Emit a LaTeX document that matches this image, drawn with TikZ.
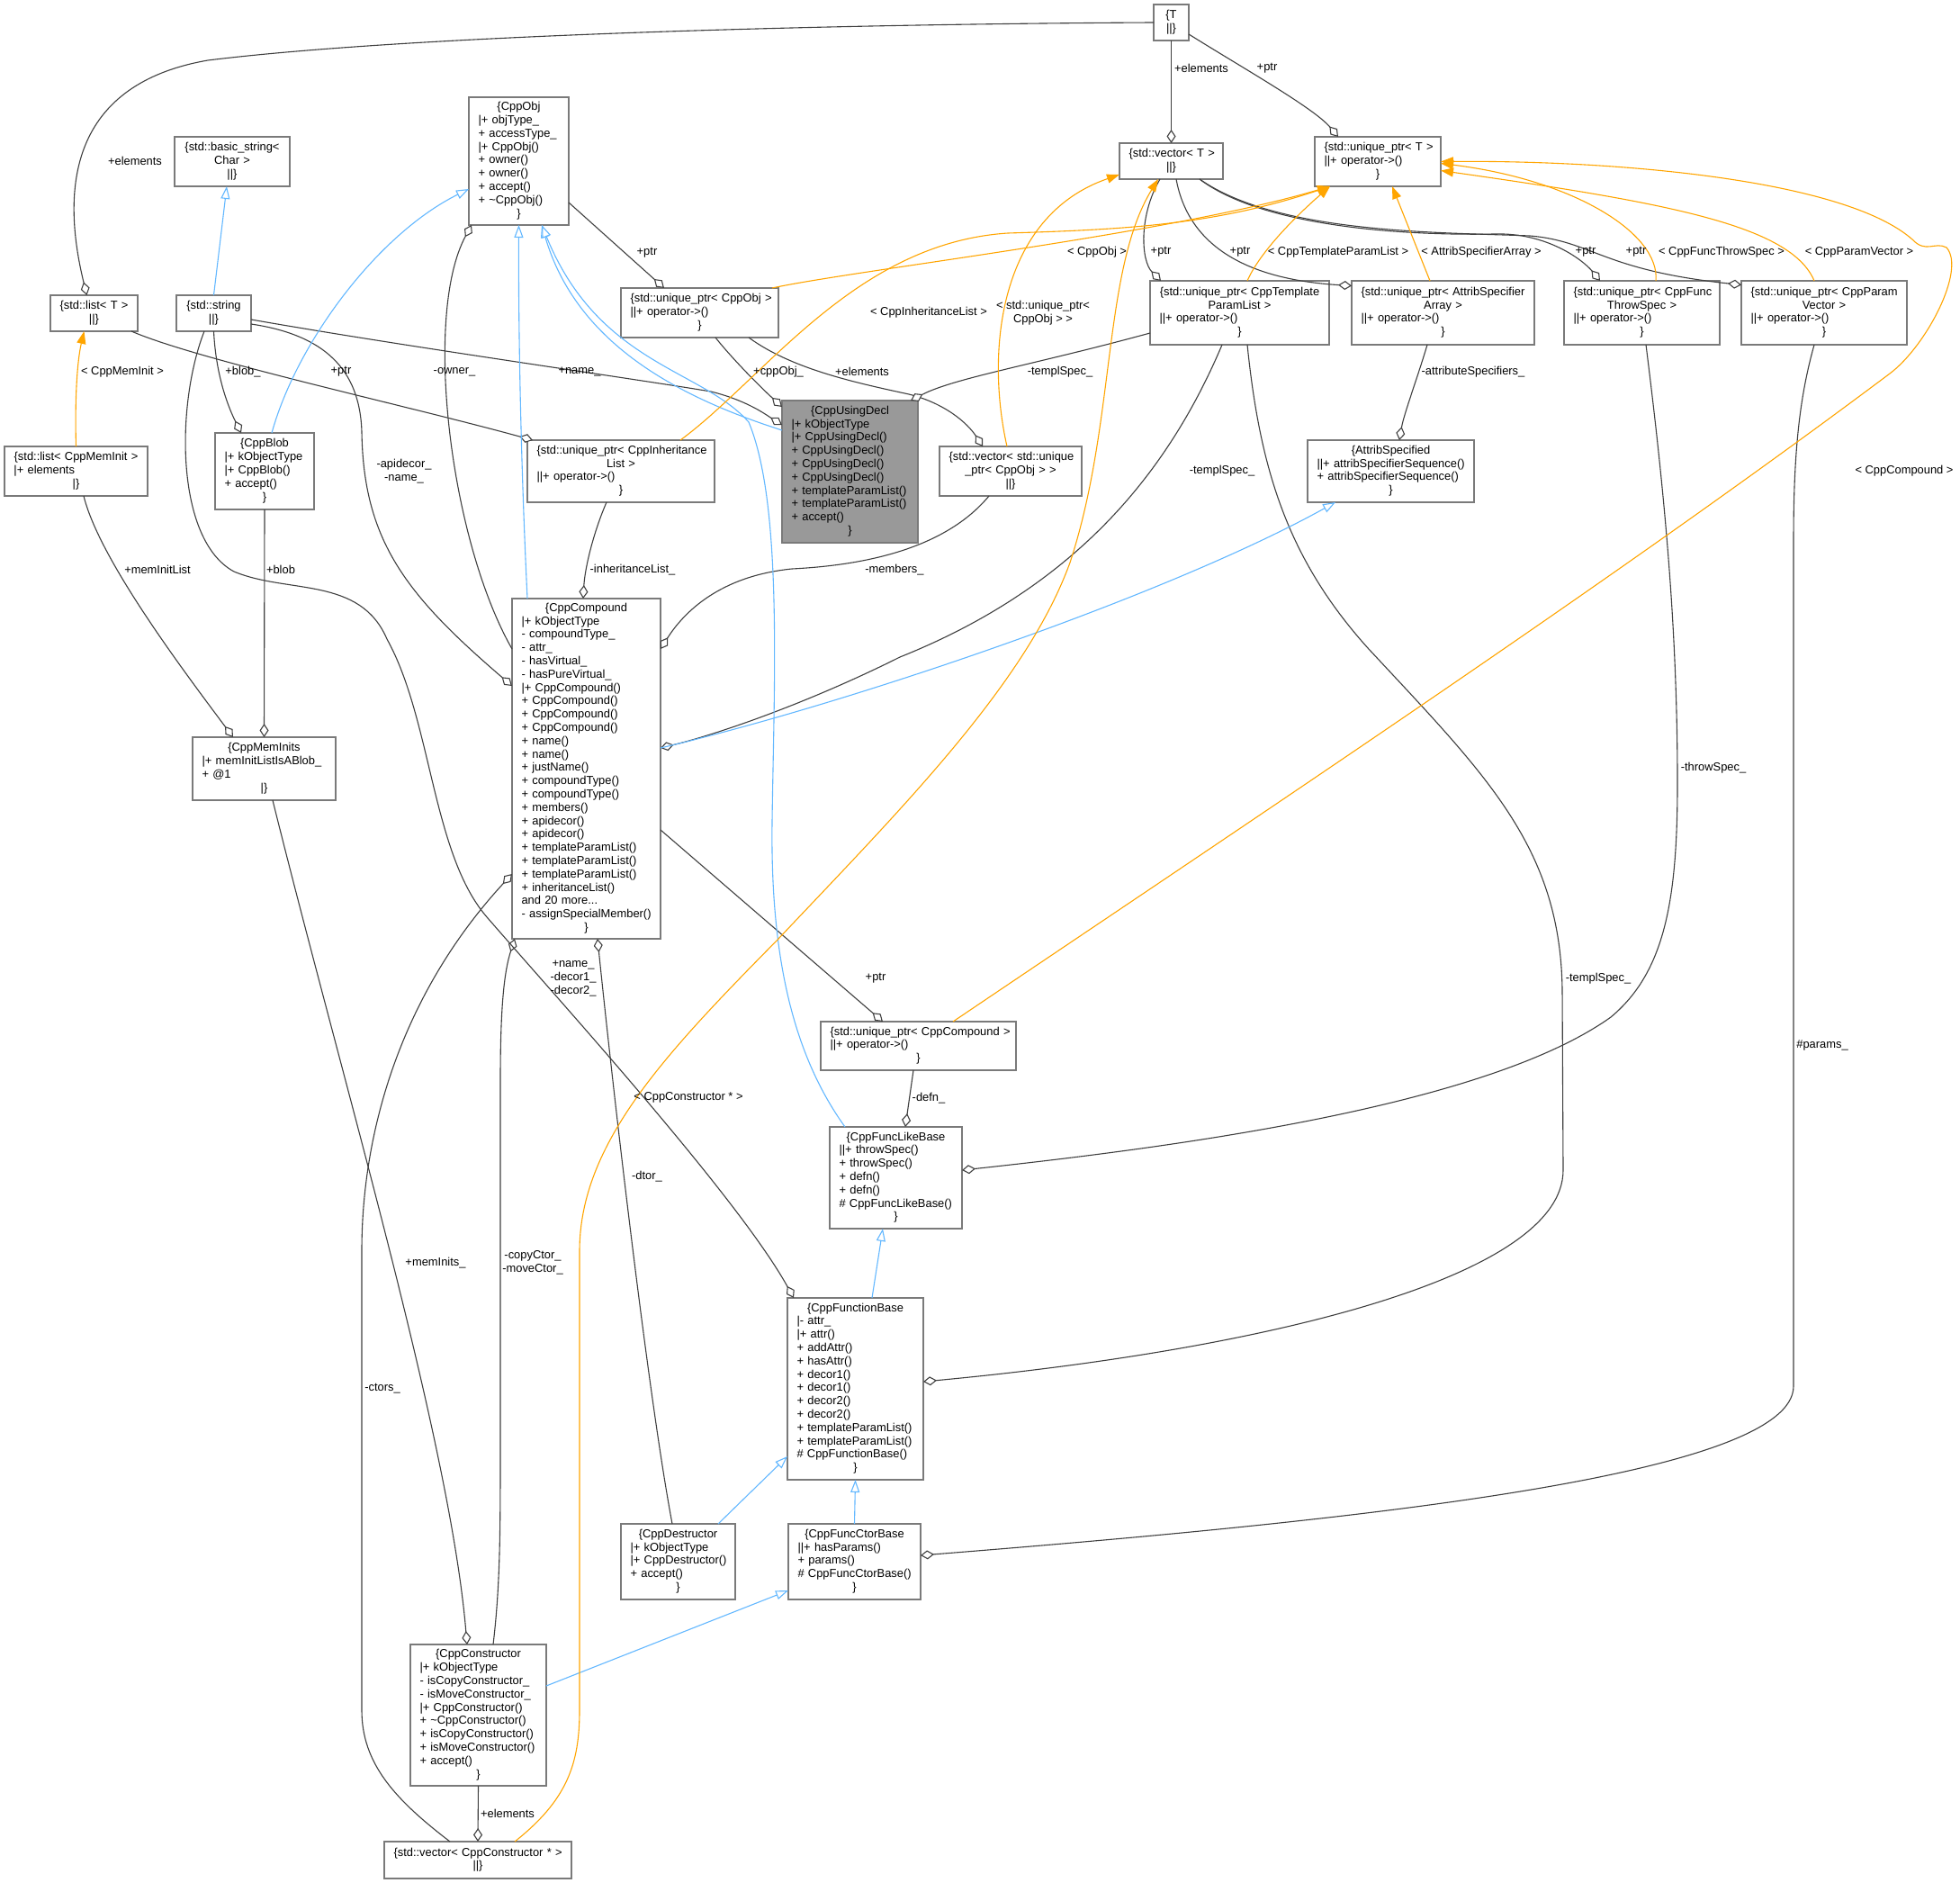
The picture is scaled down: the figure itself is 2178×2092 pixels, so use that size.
\documentclass[tikz,border=0pt]{standalone}
\usepackage{fontspec}
\setmainfont{Liberation Sans}
\usetikzlibrary{arrows.meta,calc}
\definecolor{boxgray}{HTML}{7A7A7A}
\definecolor{edgegray}{HTML}{404040}
\definecolor{inhblue}{HTML}{63B8FF}
\definecolor{tmplorange}{HTML}{FFA500}
\definecolor{mainfill}{HTML}{999999}
\newcommand\umlC[1]{{\centering\strut\mbox{#1}\par}}
\newcommand\umlL[1]{{\raggedright\strut\mbox{#1}\par}}
\newcommand\umlbox[7][white]{%
  \pgfmathsetmacro\umlW{#5-#3}%
  \pgfmathsetmacro\umlH{#6-#4}%
  \pgfmathsetmacro\umlT{#5-#3-21}%
  \node[umlnode, fill=#1, minimum width=\umlW pt, minimum height=\umlH pt, text width=\umlT pt] (#2) at (#3,#4) {#7};}
\begin{document}
\begin{tikzpicture}[x=1pt,y=-1pt,
  font=\fontsize{12.9pt}{14.8pt}\selectfont,
  umlnode/.style={draw=boxgray, line width=1.3pt, anchor=north west, inner xsep=10.5pt, inner ysep=0pt, outer sep=0pt},
  comp/.style={draw=edgegray, line width=1.1pt, -{Diamond[fill=white,length=15pt,width=10pt]}},
  inh/.style={draw=inhblue, line width=1.1pt, -{Triangle[fill=white,length=14pt,width=10pt]}},
  tmpl/.style={draw=tmplorange, line width=1.1pt, -{Triangle[length=14pt,width=10pt]}},
  lbl/.style={inner sep=0pt, align=center, text=black}]
\fill[white] (0,0) rectangle (2178,2092);
\useasboundingbox (0,0) rectangle (2178,2092);

% ---------- boxes ----------
\umlbox{T}{1282}{5}{1321}{45}{\umlC{\{T}\umlC{||\}}}
\umlbox{CppObj}{521}{108}{632}{250}{\umlC{\{CppObj}\umlL{|+ objType\_}\umlL{+ accessType\_}\umlL{|+ CppObj()}\umlL{+ owner()}\umlL{+ owner()}\umlL{+ accept()}\umlL{+ \textasciitilde CppObj()}\umlC{\}}}
\umlbox{basic}{194}{152}{322}{207}{\umlC{\{std::basic\_string<}\umlC{Char >}\umlC{||\}}}
\umlbox{vectorT}{1244}{159}{1359}{199}{\umlC{\{std::vector< T >}\umlC{||\}}}
\umlbox{uptrT}{1461}{152}{1601}{207}{\umlC{\{std::unique\_ptr< T >}\umlL{||+ operator->()}\umlC{\}}}
\umlbox{listT}{56}{328}{153}{368}{\umlC{\{std::list< T >}\umlC{||\}}}
\umlbox{string}{196}{328}{279}{368}{\umlC{\{std::string}\umlC{||\}}}
\umlbox{uptrObj}{690}{320}{865}{375}{\umlC{\{std::unique\_ptr< CppObj >}\umlL{||+ operator->()}\umlC{\}}}
\umlbox{uptrTPL}{1278}{312}{1477}{383}{\umlC{\{std::unique\_ptr< CppTemplate}\umlC{ParamList >}\umlL{||+ operator->()}\umlC{\}}}
\umlbox{uptrASA}{1502}{312}{1705}{383}{\umlC{\{std::unique\_ptr< AttribSpecifier}\umlC{Array >}\umlL{||+ operator->()}\umlC{\}}}
\umlbox{uptrFTS}{1738}{312}{1911}{383}{\umlC{\{std::unique\_ptr< CppFunc}\umlC{ThrowSpec >}\umlL{||+ operator->()}\umlC{\}}}
\umlbox{uptrPV}{1935}{312}{2119}{383}{\umlC{\{std::unique\_ptr< CppParam}\umlC{Vector >}\umlL{||+ operator->()}\umlC{\}}}
\umlbox[mainfill]{using}{869}{445}{1020}{603}{\umlC{\{CppUsingDecl}\umlL{|+ kObjectType}\umlL{|+ CppUsingDecl()}\umlL{+ CppUsingDecl()}\umlL{+ CppUsingDecl()}\umlL{+ CppUsingDecl()}\umlL{+ templateParamList()}\umlL{+ templateParamList()}\umlL{+ accept()}\umlC{\}}}
\umlbox{listMI}{5}{496}{164}{551}{\umlC{\{std::list< CppMemInit >}\umlL{|+ elements}\umlC{|\}}}
\umlbox{blob}{239}{481}{349}{566}{\umlC{\{CppBlob}\umlL{|+ kObjectType}\umlL{|+ CppBlob()}\umlL{+ accept()}\umlC{\}}}
\umlbox{uptrIL}{586}{489}{794}{558}{\umlC{\{std::unique\_ptr< CppInheritance}\umlC{List >}\umlL{||+ operator->()}\umlC{\}}}
\umlbox{vecUO}{1044}{496}{1202}{551}{\umlC{\{std::vector< std::unique}\umlC{\_ptr< CppObj > >}\umlC{||\}}}
\umlbox{attrSp}{1453}{489}{1638}{558}{\umlC{\{AttribSpecified}\umlL{||+ attribSpecifierSequence()}\umlL{+ attribSpecifierSequence()}\umlC{\}}}
\umlbox{compound}{569}{665}{734}{1043}{\umlC{\{CppCompound}\umlL{|+ kObjectType}\umlL{- compoundType\_}\umlL{- attr\_}\umlL{- hasVirtual\_}\umlL{- hasPureVirtual\_}\umlL{|+ CppCompound()}\umlL{+ CppCompound()}\umlL{+ CppCompound()}\umlL{+ CppCompound()}\umlL{+ name()}\umlL{+ name()}\umlL{+ justName()}\umlL{+ compoundType()}\umlL{+ compoundType()}\umlL{+ members()}\umlL{+ apidecor()}\umlL{+ apidecor()}\umlL{+ templateParamList()}\umlL{+ templateParamList()}\umlL{+ templateParamList()}\umlL{+ inheritanceList()}\umlL{and 20 more...}\umlL{- assignSpecialMember()}\umlC{\}}}
\umlbox{memInits}{214}{819}{373}{889}{\umlC{\{CppMemInits}\umlL{|+ memInitListIsABlob\_}\umlL{+ @1}\umlC{|\}}}
\umlbox{uptrC}{912}{1135}{1129}{1189}{\umlC{\{std::unique\_ptr< CppCompound >}\umlL{||+ operator->()}\umlC{\}}}
\umlbox{funcLike}{922}{1252}{1069}{1365}{\umlC{\{CppFuncLikeBase}\umlL{||+ throwSpec()}\umlL{+ throwSpec()}\umlL{+ defn()}\umlL{+ defn()}\umlL{\# CppFuncLikeBase()}\umlC{\}}}
\umlbox{funcBase}{875}{1442}{1026}{1644}{\umlC{\{CppFunctionBase}\umlL{|- attr\_}\umlL{|+ attr()}\umlL{+ addAttr()}\umlL{+ hasAttr()}\umlL{+ decor1()}\umlL{+ decor1()}\umlL{+ decor2()}\umlL{+ decor2()}\umlL{+ templateParamList()}\umlL{+ templateParamList()}\umlL{\# CppFunctionBase()}\umlC{\}}}
\umlbox{dtor}{690}{1693}{817}{1777}{\umlC{\{CppDestructor}\umlL{|+ kObjectType}\umlL{|+ CppDestructor()}\umlL{+ accept()}\umlC{\}}}
\umlbox{ctorBase}{876}{1693}{1023}{1777}{\umlC{\{CppFuncCtorBase}\umlL{||+ hasParams()}\umlL{+ params()}\umlL{\# CppFuncCtorBase()}\umlC{\}}}
\umlbox{ctor}{456}{1827}{607}{1984}{\umlC{\{CppConstructor}\umlL{|+ kObjectType}\umlL{- isCopyConstructor\_}\umlL{- isMoveConstructor\_}\umlL{|+ CppConstructor()}\umlL{+ \textasciitilde CppConstructor()}\umlL{+ isCopyConstructor()}\umlL{+ isMoveConstructor()}\umlL{+ accept()}\umlC{\}}}
\umlbox{vecCtor}{427}{2046}{635}{2087}{\umlC{\{std::vector< CppConstructor * >}\umlC{||\}}}

% ---------- composition / usage edges ----------
\draw[comp] (T.west) .. controls (900,27) and (450,40) .. (231,67) .. controls (70,95) and (70,220) .. ($(listT.north)+(-8,0)$);
\draw[comp] (T.south) -- (vectorT.north);
\draw[comp] ($(T.east)+(0,13)$) .. controls (1380,75) and (1460,120) .. ($(uptrT.north)+(-44,0)$);
\draw[comp] ($(listT.south east)+(-7,0)$) .. controls (220,400) and (450,450) .. ($(uptrIL.north west)+(6,0)$);
\draw[comp] (string.south) .. controls (240,420) and (255,455) .. ($(blob.north)+(-26,0)$);
\draw[comp] ($(string.east)+(0,12)$) .. controls (360,372) and (400,410) .. (402,480) .. controls (404,600) and (450,660) .. ($(compound.west)+(0,-92)$);
\draw[comp] ($(compound.west)+(0,-133)$) .. controls (500,600) and (470,350) .. ($(CppObj.south west)+(3,0)$);
\draw[comp] ($(CppObj.east)+(0,46)$) -- ($(uptrObj.north)+(-39.5,0)$);
\draw[comp] ($(uptrObj.south)+(17.5,0)$) .. controls (815,400) and (845,430) .. ($(using.west)+(0,-72)$);
\draw[comp] ($(uptrObj.south)+(54.5,0)$) .. controls (880,410) and (950,425) .. (1010,438) .. controls (1050,448) and (1075,470) .. ($(vecUO.north)+(-31,0)$);
\draw[comp] ($(string.east)+(0,7)$) .. controls (450,385) and (700,420) .. (790,435) .. controls (830,445) and (850,460) .. ($(using.west)+(0,-52)$);
\draw[comp] ($(vectorT.south)+(-12.5,0)$) .. controls (1265,240) and (1268,290) .. ($(uptrTPL.north)+(-87.5,0)$);
\draw[comp] ($(vectorT.south)+(5.5,0)$) .. controls (1320,270) and (1380,310) .. ($(uptrASA.west)+(0,-30)$);
\draw[comp] ($(vectorT.south east)+(-26,0)$) .. controls (1400,250) and (1550,262) .. (1660,260) .. controls (1720,258) and (1760,290) .. ($(uptrFTS.north)+(-46.5,0)$);
\draw[comp] ($(vectorT.south east)+(-26,0)$) .. controls (1420,260) and (1600,258) .. (1700,262) .. controls (1770,268) and (1780,300) .. ($(uptrPV.west)+(0,-31)$);
\draw[comp] ($(compound.east)+(0,68)$) -- ($(uptrC.north)+(-39.5,0)$);
\draw[comp] ($(uptrC.south)+(-5.5,0)$) -- ($(funcLike.north)+(10.5,0)$);
\draw[comp] ($(uptrIL.south)+(-16,0)$) .. controls (660,590) and (650,630) .. ($(compound.north)+(-3.5,0)$);
\draw[comp] ($(vecUO.south)+(-24,0)$) .. controls (1050,610) and (960,628) .. (880,632) .. controls (800,640) and (760,680) .. ($(compound.east)+(0,-133)$);
\draw[comp] ($(uptrTPL.west)+(0,22.5)$) .. controls (1150,405) and (1060,420) .. ($(using.north east)+(-8,0)$);
\draw[comp] ($(uptrTPL.south)+(-19.5,0)$) .. controls (1300,520) and (1200,650) .. (1000,730) .. controls (900,780) and (800,815) .. ($(compound.east)+(0,-23)$);
\draw[comp] ($(uptrTPL.south)+(8.5,0)$) .. controls (1400,520) and (1430,620) .. (1520,720) .. controls (1650,860) and (1734,940) .. (1736,1100) -- (1737,1300) .. controls (1737,1420) and (1400,1500) .. ($(funcBase.east)+(0,-8)$);
\draw[comp] ($(uptrASA.south)+(-17.5,0)$) .. controls (1575,420) and (1560,460) .. ($(attrSp.north)+(9.5,0)$);
\draw[comp] ($(uptrFTS.south)+(4.5,0)$) .. controls (1850,550) and (1864,700) .. (1864,870) .. controls (1864,1000) and (1850,1080) .. (1790,1130) .. controls (1650,1230) and (1300,1275) .. ($(funcLike.east)+(0,-8.5)$);
\draw[comp] ($(uptrPV.south)+(-11,0)$) .. controls (2000,440) and (1993,500) .. (1993,600) -- (1993,1540) .. controls (1993,1640) and (1500,1690) .. ($(ctorBase.east)+(0,-7)$);
\draw[comp] ($(dtor.north)+(-6.5,0)$) .. controls (720,1550) and (680,1200) .. ($(compound.south)+(12.5,0)$);
\draw[comp] ($(ctor.north)+(16.5,0)$) .. controls (556,1760) and (556,1700) .. (556,1600) -- (556,1200) .. controls (556,1120) and (560,1080) .. ($(compound.south)+(-79.5,0)$);
\draw[comp] ($(vecCtor.north)+(-31,0)$) .. controls (440,2000) and (402,1960) .. (402,1900) -- (402,1390) .. controls (402,1250) and (450,1100) .. ($(compound.west)+(0,117)$);
\draw[comp] (ctor.south) -- (vecCtor.north);
\draw[comp] ($(memInits.south)+(9.5,0)$) .. controls (380,1200) and (500,1600) .. ($(ctor.north)+(-12.5,0)$);
\draw[comp] ($(listMI.south)+(8.5,0)$) .. controls (110,620) and (200,740) .. ($(memInits.north)+(-34.5,0)$);
\draw[comp] (blob.south) -- (memInits.north);
\draw[comp] ($(string.south)+(-10.5,0)$) .. controls (195,450) and (195,600) .. (260,635) .. controls (320,660) and (400,640) .. (430,710) .. controls (480,800) and (480,950) .. (542,1020) .. controls (620,1110) and (820,1330) .. ($(funcBase.north)+(-68.5,0)$);

% ---------- inheritance edges ----------
\draw[inh] (string.north) -- ($(basic.south)+(-6,0)$);
\draw[inh] ($(blob.north)+(8,0)$) .. controls (330,380) and (420,260) .. ($(CppObj.west)+(0,31)$);
\draw[inh] ($(compound.north)+(-65.5,0)$) .. controls (578,500) and (576,350) .. (CppObj.south);
\draw[inh] ($(using.west)+(0,-46)$) .. controls (750,440) and (640,380) .. ($(CppObj.south)+(25.5,0)$);
\draw[inh] ($(funcLike.north)+(-56.5,0)$) .. controls (880,1170) and (856,1060) .. (858,913) .. controls (860,760) and (870,560) .. (832,469) .. controls (780,410) and (665,405) .. ($(CppObj.south)+(25.5,0)$);
\draw[inh] ($(compound.east)+(0,-23)$) .. controls (950,780) and (1300,660) .. ($(attrSp.south)+(-61.5,0)$);
\draw[inh] ($(funcBase.north)+(18.5,0)$) -- ($(funcLike.south)+(-14.5,0)$);
\draw[inh] ($(dtor.north)+(44.5,0)$) -- ($(funcBase.west)+(0,75)$);
\draw[inh] (ctorBase.north) -- (funcBase.south);
\draw[inh] ($(ctor.east)+(0,-32.5)$) -- ($(ctorBase.west)+(0,32)$);

% ---------- template instance edges ----------
\draw[tmpl] (listMI.north) .. controls (83,440) and (86,400) .. ($(listT.south)+(-11,0)$);
\draw[tmpl] ($(uptrObj.north east)+(-7,0)$) .. controls (950,300) and (1300,260) .. ($(uptrT.south)+(-53,0)$);
\draw[tmpl] ($(uptrIL.north)+(66,0)$) .. controls (850,420) and (950,270) .. (1120,259) .. controls (1250,255) and (1350,250) .. ($(uptrT.south)+(-53,0)$);
\draw[tmpl] ($(vecUO.north)+(-4,0)$) .. controls (1095,390) and (1110,240) .. ($(vectorT.west)+(0,15)$);
\draw[tmpl] ($(vecCtor.north)+(41,0)$) .. controls (630,2000) and (644,1960) .. (644,1900) -- (644,1390) .. controls (644,1270) and (740,1170) .. (865,1043) .. controls (1000,900) and (1140,760) .. (1189,625) .. controls (1240,470) and (1225,300) .. ($(vectorT.south)+(-14.5,0)$);
\draw[tmpl] ($(uptrTPL.north)+(8.5,0)$) .. controls (1400,280) and (1440,240) .. ($(uptrT.south)+(-53,0)$);
\draw[tmpl] ($(uptrASA.north)+(-14.5,0)$) -- ($(uptrT.south)+(16,0)$);
\draw[tmpl] ($(uptrFTS.north)+(15.5,0)$) .. controls (1845,260) and (1750,200) .. ($(uptrT.east)+(0,2)$);
\draw[tmpl] ($(uptrPV.north)+(-11,0)$) .. controls (1990,250) and (1850,225) .. ($(uptrT.east)+(0,10)$);
\draw[tmpl] ($(uptrC.north)+(38.5,0)$) .. controls (1400,905) and (1800,640) .. (2100,415) .. controls (2140,385) and (2185,300) .. (2163,275) .. controls (2150,268) and (2140,282) .. (2125,266) .. controls (2050,200) and (1800,178) .. (uptrT.east);

% ---------- labels ----------
\node[lbl] (l1) at (150,179) {+elements};
\node[lbl] (l2) at (1335,76) {+elements};
\node[lbl] (l3) at (1408,76) {+ptr};
\node[lbl] (l4) at (136,413) {< CppMemInit >};
\node[lbl] (l5) at (270,413) {+blob\_};
\node[lbl] (l6) at (379,413) {+ptr};
\node[lbl] (l7) at (505,413) {-owner\_};
\node[lbl] (l8) at (644,413) {+name\_};
\node[lbl] (l9) at (449,524) {-apidecor\_\\-name\_};
\node[lbl] (l10) at (175,633) {+memInitList};
\node[lbl] (l11) at (312,633) {+blob};
\node[lbl] (l12) at (703,633) {-inheritanceList\_};
\node[lbl] (l13) at (719,281) {+ptr};
\node[lbl] (l14) at (1219,280) {< CppObj >};
\node[lbl] (l15) at (1290,280) {+ptr};
\node[lbl] (l16) at (1378,280) {+ptr};
\node[lbl] (l17) at (1487,280) {< CppTemplateParamList >};
\node[lbl] (l18) at (1032,347) {< CppInheritanceList >};
\node[lbl] (l19) at (1159,347.5) {< std::unique\_ptr<\\CppObj > >};
\node[lbl] (l20) at (865,413) {+cppObj\_};
\node[lbl] (l21) at (958,413) {+elements};
\node[lbl] (l22) at (1178,413) {-templSpec\_};
\node[lbl] (l23) at (994,633) {-members\_};
\node[lbl] (l24) at (1358,523) {-templSpec\_};
\node[lbl] (l25) at (1646,280) {< AttribSpecifierArray >};
\node[lbl] (l26) at (1762,280) {+ptr};
\node[lbl] (l27) at (1818,280) {+ptr};
\node[lbl] (l28) at (1913,280) {< CppFuncThrowSpec >};
\node[lbl] (l29) at (2066,280) {< CppParamVector >};
\node[lbl] (l30) at (1637,413) {-attributeSpecifiers\_};
\node[lbl] (l31) at (2116,523) {< CppCompound >};
\node[lbl] (l32) at (637,1087) {+name\_\\-decor1\_\\-decor2\_};
\node[lbl] (l33) at (719,1307) {-dtor\_};
\node[lbl] (l34) at (765,1219) {< CppConstructor * >};
\node[lbl] (l35) at (973,1087) {+ptr};
\node[lbl] (l36) at (1032,1220) {-defn\_};
\node[lbl] (l37) at (1904,853) {-throwSpec\_};
\node[lbl] (l38) at (1776,1087) {-templSpec\_};
\node[lbl] (l39) at (2025,1161) {\#params\_};
\node[lbl] (l40) at (484,1403) {+memInits\_};
\node[lbl] (l41) at (592,1403) {-copyCtor\_\\-moveCtor\_};
\node[lbl] (l42) at (425,1543) {-ctors\_};
\node[lbl] (l43) at (564,2015) {+elements};
\end{tikzpicture}
\end{document}
